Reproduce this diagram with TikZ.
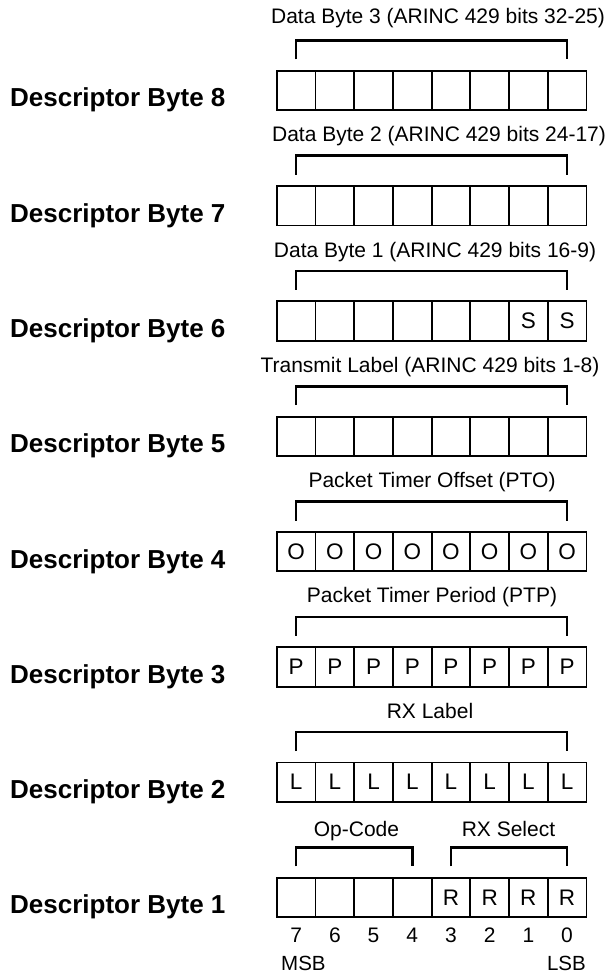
\documentclass[tikz,border=0pt]{standalone}
\usepackage{fontspec}
\setmainfont{Liberation Sans}
\begin{document}
\begin{tikzpicture}[x=1pt,y=-1pt,
  cell/.style={draw, line width=1.8pt, minimum width=38.7pt, minimum height=39.4pt, inner sep=0pt},
  celltext/.style={inner sep=0pt, font=\fontsize{22.5}{22.5}\selectfont},
  bracket/.style={line width=2.6pt, line cap=butt, line join=miter},
  title/.style={anchor=base, inner sep=0pt, font=\fontsize{21}{21}\selectfont},
  desc/.style={anchor=base west, inner sep=0pt, font=\fontsize{26}{26}\selectfont\bfseries},
  bitnum/.style={anchor=base, inner sep=0pt, font=\fontsize{21}{21}\selectfont},
  msb/.style={inner sep=0pt, font=\fontsize{20.5}{20.5}\selectfont}]
\useasboundingbox (0,0) rectangle (609,973);
% rows
\foreach \r in {1,...,8}{
  \pgfmathsetmacro{\cy}{90.5+(8-\r)*115.28}
  \node[desc] (d\r) at (10,\cy+16.5) {Descriptor Byte \r};
  \foreach \b in {7,...,0}{
    \pgfmathsetmacro{\cx}{296.15+(7-\b)*38.7}
    \node[cell] (c\r-\b) at (\cx,\cy) {};
  }
}
% cell letters
\foreach \b in {1,0}{\node[celltext] at (c6-\b) {S};}
\foreach \b in {7,...,0}{
  \node[celltext] at (c4-\b) {O};
  \node[celltext] at (c3-\b) {P};
  \node[celltext] at (c2-\b) {L};
}
\foreach \b in {3,...,0}{\node[celltext] at (c1-\b) {R};}
% brackets
\foreach \r in {2,...,8}{
  \draw[bracket] ([yshift=10.5pt]c\r-7.north) -- ([yshift=29.4pt]c\r-7.north) -- ([yshift=29.4pt]c\r-0.north) -- ([yshift=10.5pt]c\r-0.north);
}
\draw[bracket] ([yshift=10.5pt]c1-7.north) -- ([yshift=29.4pt]c1-7.north) -- ([yshift=29.4pt]c1-4.north) -- ([yshift=10.5pt]c1-4.north);
\draw[bracket] ([yshift=10.5pt]c1-3.north) -- ([yshift=29.4pt]c1-3.north) -- ([yshift=29.4pt]c1-0.north) -- ([yshift=10.5pt]c1-0.north);
% titles
\node[title] (t8) at (438,90.5-66.5) {Data Byte 3 (ARINC 429 bits 32-25)};
\node[title] (t7) at (439,205.78-64) {Data Byte 2 (ARINC 429 bits 24-17)};
\node[title] (t6) at (435,321.06-64) {Data Byte 1 (ARINC 429 bits 16-9)};
\node[title] (t5) at (430,436.34-64) {Transmit Label (ARINC 429 bits 1-8)};
\node[title] (t4) at (432,551.62-64) {Packet Timer Offset (PTO)};
\node[title] (t3) at (432,666.9-64) {Packet Timer Period (PTP)};
\node[title] (t2) at (430,782.18-64) {RX Label};
\node[title] (t1a) at (356.5,897.46-61) {Op-Code};
\node[title] (t1b) at (508.5,897.46-61) {RX Select};
% bit numbers
\foreach \b in {7,...,0}{
  \node[bitnum] (n\b) at ([yshift=-45pt]c1-\b.center) {\b};
}
\node[msb, anchor=base west] (msb) at (281,970.5) {MSB};
\node[msb, anchor=base east] (lsb) at (586,970.5) {LSB};
\end{tikzpicture}
\end{document}
